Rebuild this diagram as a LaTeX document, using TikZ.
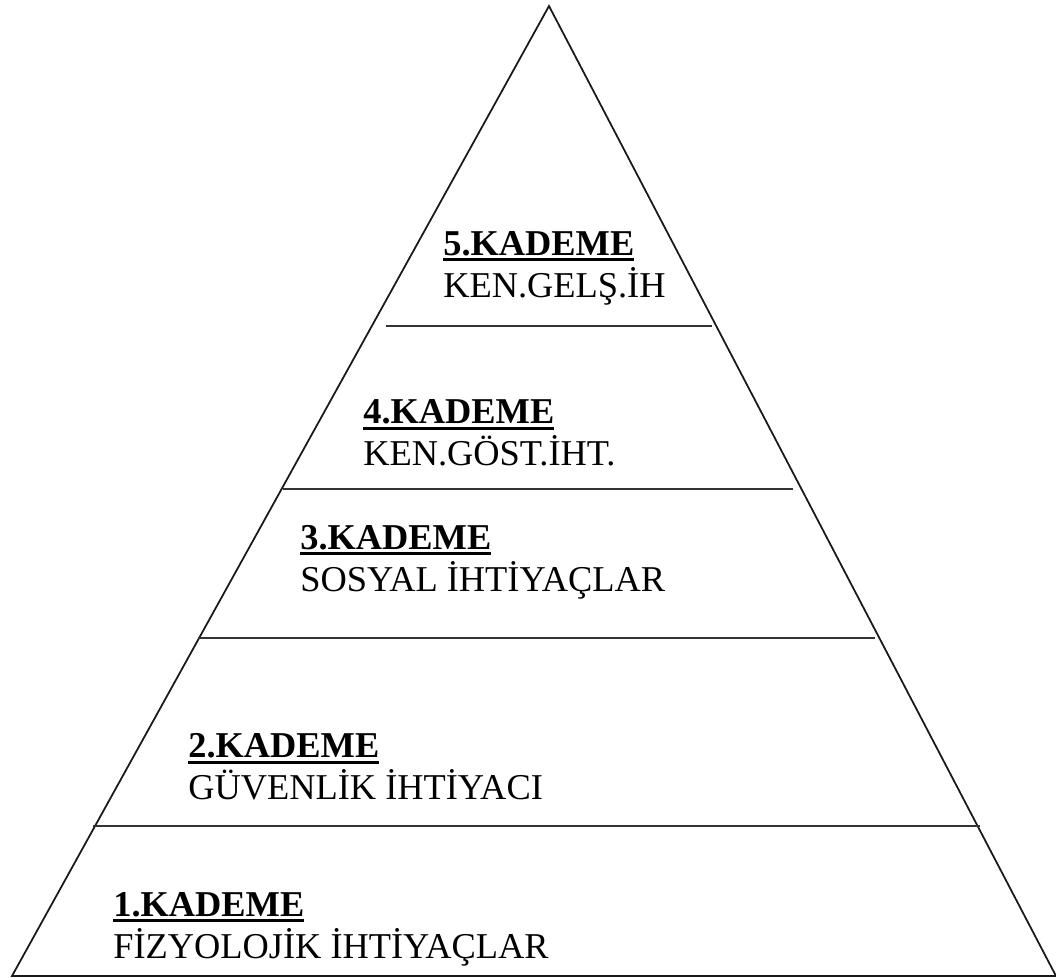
\documentclass[tikz,border=0pt]{standalone}
\usepackage{fontspec}
\setmainfont{Liberation Serif}
\usetikzlibrary{positioning}
\tikzset{
    x=0.02cm, y=-0.02cm, % one unit is one pixel of the sketch
    edge/.style={line width=1pt, black!90}, % sides of the pyramid
    level/.style={line width=0.9pt, black!80}, % lines between the steps
    stage/.style={anchor=west, align=left, inner sep=0pt,
        font=\fontsize{20.7}{24}\selectfont}, % text of each step
    }
\newsavebox{\kbox}
\newcommand{\kademe}[2]{\sbox{\kbox}{\textbf{#1}}%
    \rlap{\rule[-3.4pt]{\wd\kbox}{1.6pt}}\usebox{\kbox}\\#2}

\begin{document}
\begin{tikzpicture}
\useasboundingbox (0,0) rectangle (1056,978);

\coordinate (top) at (549,6);
\coordinate (bl) at (12,976);
\coordinate (br) at (1056,976);

\draw[edge] (bl) -- (top) -- (br) -- cycle;

% lines between the steps
\coordinate (l5a) at (386,326); \coordinate (l5b) at (712,326);
\coordinate (l4a) at (283,489); \coordinate (l4b) at (793,489);
\coordinate (l3a) at (198,638); \coordinate (l3b) at (875,638);
\coordinate (l2a) at (93,826);  \coordinate (l2b) at (980,826);
\draw[level] (l5a) -- (l5b);
\draw[level] (l4a) -- (l4b);
\draw[level] (l3a) -- (l3b);
\draw[level] (l2a) -- (l2b);

\node[stage] (k5) at (443,268) {\kademe{5.KADEME}{KEN.GELŞ.İH}};
\node[stage] (k4) at (363,433) {\kademe{4.KADEME}{KEN.GÖST.İHT.}};
\node[stage] (k3) at (300,562) {\kademe{3.KADEME}{SOSYAL İHTİYAÇLAR}};
\node[stage] (k2) at (188,767) {\kademe{2.KADEME}{GÜVENLİK İHTİYACI}};
\node[stage] (k1) at (113,929) {\kademe{1.KADEME}{FİZYOLOJİK İHTİYAÇLAR}};

\end{tikzpicture}
\end{document}
